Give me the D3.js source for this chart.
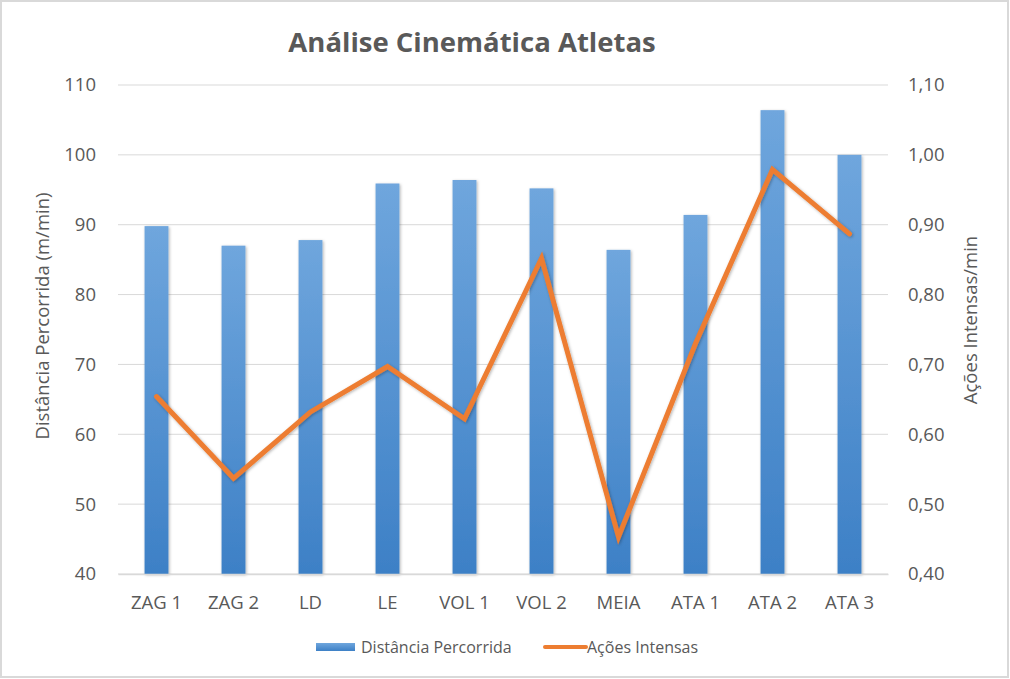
<!DOCTYPE html>
<html>
<head>
<meta charset="utf-8">
<script src="https://cdn.jsdelivr.net/npm/d3@7"></script>
<style>
  body { margin: 0; background: #fff; }
  svg text { font-family: "Open Sans", "Noto Sans", sans-serif; fill: #595959; }
</style>
</head>
<body>
<svg id="chart" width="1010" height="679"></svg>
<script>
const categories = ["ZAG 1", "ZAG 2", "LD", "LE", "VOL 1", "VOL 2", "MEIA", "ATA 1", "ATA 2", "ATA 3"];
const distancia = [89.8, 87.0, 87.8, 95.9, 96.4, 95.2, 86.4, 91.4, 106.4, 100.0];
const acoes = [0.654, 0.537, 0.632, 0.697, 0.622, 0.852, 0.453, 0.73, 0.979, 0.887];
const leftTicks = [40, 50, 60, 70, 80, 90, 100, 110];
const rightTicks = [0.40, 0.50, 0.60, 0.70, 0.80, 0.90, 1.00, 1.10];

const margin = { top: 85, right: 122, bottom: 105, left: 118 };
const width = 1010 - margin.left - margin.right;
const height = 679 - margin.top - margin.bottom;

const svg = d3.select("#chart");

// chart frame
svg.append("rect")
  .attr("x", 1).attr("y", 1)
  .attr("width", 1007).attr("height", 676)
  .attr("fill", "#fff")
  .attr("stroke", "#d9d9d9")
  .attr("stroke-width", 2);

const defs = svg.append("defs");
const grad = defs.append("linearGradient")
  .attr("id", "barGrad")
  .attr("x1", 0).attr("y1", 0).attr("x2", 0).attr("y2", 1);
grad.append("stop").attr("offset", "0%").attr("stop-color", "#6fa6dd");
grad.append("stop").attr("offset", "100%").attr("stop-color", "#3d80c6");

const shadow = defs.append("filter").attr("id", "shadow")
  .attr("x", "-20%").attr("y", "-20%").attr("width", "140%").attr("height", "140%");
shadow.append("feDropShadow")
  .attr("dx", 1).attr("dy", 1).attr("stdDeviation", 1.5)
  .attr("flood-color", "#000").attr("flood-opacity", 0.3);

const g = svg.append("g")
  .attr("transform", "translate(" + margin.left + "," + margin.top + ")");

const x = d3.scaleBand()
  .domain(categories)
  .range([0, width])
  .paddingInner(0.69)
  .paddingOuter(0.345);

const y = d3.scaleLinear().domain([40, 110]).range([height, 0]);
const y2 = d3.scaleLinear().domain([0.40, 1.10]).range([height, 0]);

// gridlines
g.append("g")
  .selectAll("line")
  .data(leftTicks)
  .join("line")
  .attr("x1", 0).attr("x2", width)
  .attr("y1", d => y(d)).attr("y2", d => y(d))
  .attr("stroke", "#d9d9d9")
  .attr("stroke-width", 1);

// left axis
const yAxis = d3.axisLeft(y).tickValues(leftTicks).tickSize(0).tickPadding(22);
g.append("g")
  .call(yAxis)
  .call(s => s.select(".domain").remove())
  .selectAll("text")
  .style("font-size", "18.5px")
  .attr("fill", "#595959");

// right axis
const y2Axis = d3.axisRight(y2).tickValues(rightTicks).tickSize(0).tickPadding(20)
  .tickFormat(d => d3.format(".2f")(d).replace(".", ","));
g.append("g")
  .attr("transform", "translate(" + width + ",0)")
  .call(y2Axis)
  .call(s => s.select(".domain").remove())
  .selectAll("text")
  .style("font-size", "18.5px")
  .attr("fill", "#595959");

// bars
g.append("g")
  .selectAll("rect")
  .data(distancia)
  .join("rect")
  .attr("x", (d, i) => x(categories[i]))
  .attr("y", d => y(d))
  .attr("width", x.bandwidth())
  .attr("height", d => height - y(d))
  .attr("fill", "url(#barGrad)")
  .attr("filter", "url(#shadow)");

// x axis
const xAxis = d3.axisBottom(x).tickSize(0).tickPadding(22);
g.append("g")
  .attr("transform", "translate(0," + height + ")")
  .call(xAxis)
  .call(s => s.select(".domain").attr("stroke", "#d9d9d9").attr("stroke-width", 1.5))
  .selectAll("text")
  .style("font-size", "18.5px")
  .attr("fill", "#595959");

// line
const line = d3.line()
  .x((d, i) => x(categories[i]) + x.bandwidth() / 2)
  .y(d => y2(d));

g.append("path")
  .datum(acoes)
  .attr("fill", "none")
  .attr("stroke", "#ed7d31")
  .attr("stroke-width", 5)
  .attr("stroke-linejoin", "miter")
  .attr("stroke-linecap", "round")
  .attr("filter", "url(#shadow)")
  .attr("d", line);

// title
svg.append("text")
  .attr("x", 472)
  .attr("y", 52)
  .attr("text-anchor", "middle")
  .style("font-size", "27.5px")
  .style("font-weight", "bold")
  .text("Análise Cinemática Atletas");

// axis titles
svg.append("text")
  .attr("transform", "translate(49," + 316 + ") rotate(-90)")
  .attr("text-anchor", "middle")
  .style("font-size", "18.5px")
  .text("Distância Percorrida (m/min)");

svg.append("text")
  .attr("transform", "translate(977," + 320 + ") rotate(-90)")
  .attr("text-anchor", "middle")
  .style("font-size", "18.5px")
  .text("Ações Intensas/min");

// legend
const legend = svg.append("g").attr("transform", "translate(316,647)");
legend.append("rect")
  .attr("x", 0).attr("y", -4)
  .attr("width", 39).attr("height", 8)
  .attr("fill", "url(#barGrad)");
legend.append("text")
  .attr("x", 45).attr("y", 0)
  .attr("dy", "0.35em")
  .style("font-size", "16px")
  .text("Distância Percorrida");
legend.append("line")
  .attr("x1", 229).attr("x2", 270)
  .attr("y1", 0).attr("y2", 0)
  .attr("stroke", "#ed7d31")
  .attr("stroke-width", 4)
  .attr("stroke-linecap", "round");
legend.append("text")
  .attr("x", 271).attr("y", 0)
  .attr("dy", "0.35em")
  .style("font-size", "16px")
  .text("Ações Intensas");
</script>
</body>
</html>
